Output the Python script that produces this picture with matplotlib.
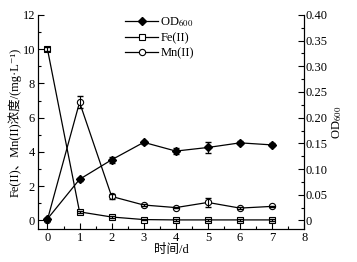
import matplotlib
matplotlib.use("Agg")
import matplotlib.pyplot as plt
from matplotlib.ticker import MultipleLocator

plt.rcParams['font.family'] = ['Liberation Serif', 'Noto Sans CJK SC', 'DejaVu Serif']
plt.rcParams['mathtext.fontset'] = 'stix'

days = [0, 1, 2, 3, 4, 5, 6, 7]
od600 = [0.003, 0.080, 0.118, 0.152, 0.135, 0.142, 0.151, 0.147]
od600_err = [0.002, 0.003, 0.006, 0.003, 0.006, 0.011, 0.003, 0.003]
fe = [10.0, 0.5, 0.2, 0.05, 0.03, 0.03, 0.03, 0.03]
fe_err = [0.1, 0.05, 0.05, 0.05, 0.05, 0.05, 0.05, 0.05]
mn = [0.05, 6.9, 1.4, 0.9, 0.75, 1.05, 0.72, 0.82]
mn_err = [0.05, 0.35, 0.15, 0.05, 0.05, 0.25, 0.05, 0.05]

fig = plt.figure(figsize=(3.57, 2.62), dpi=100)
ax = fig.add_axes([0.106, 0.126, 0.746, 0.817])
ax2 = ax.twinx()

fs = 9
l2, = ax.plot(days, fe, '-', color='black', lw=0.9, marker='s', ms=4,
              mfc='white', mec='black', mew=0.8, label='Fe(II)')
ax.errorbar(days, fe, yerr=fe_err, fmt='none', ecolor='black', elinewidth=0.8, capsize=2)
l3, = ax.plot(days, mn, '-', color='black', lw=0.9, marker='o', ms=4.5,
              mfc='white', mec='black', mew=0.8, label='Mn(II)')
ax.errorbar(days, mn, yerr=mn_err, fmt='none', ecolor='black', elinewidth=0.8, capsize=2)
l1, = ax2.plot(days, od600, '-', color='black', lw=0.9, marker='D', ms=4,
               mfc='black', mec='black', label='OD$_{600}$')
ax2.errorbar(days, od600, yerr=od600_err, fmt='none', ecolor='black', elinewidth=0.8, capsize=2)

ax.set_xlim(-0.3, 8)
ax.set_ylim(-0.5, 12)
ax2.set_ylim(-0.5 / 30, 0.40)
ax.xaxis.set_major_locator(MultipleLocator(1))
ax.xaxis.set_minor_locator(MultipleLocator(0.5))
ax.yaxis.set_major_locator(MultipleLocator(2))
ax.yaxis.set_minor_locator(MultipleLocator(1))
ax2.yaxis.set_minor_locator(MultipleLocator(0.025))
ax2.set_yticks([0, 0.05, 0.10, 0.15, 0.20, 0.25, 0.30, 0.35, 0.40])
ax2.set_yticklabels(['0', '0.05', '0.10', '0.15', '0.20', '0.25', '0.30', '0.35', '0.40'])

for a in (ax, ax2):
    a.spines['top'].set_visible(False)
    a.tick_params(which='both', direction='in', labelsize=fs, width=0.8)
    a.tick_params(which='major', length=4)
    a.tick_params(which='minor', length=2)
    for s in a.spines.values():
        s.set_linewidth(0.8)
ax.tick_params(axis='y', right=False)
ax2.tick_params(axis='y', left=False, pad=1)
ax.tick_params(axis='x', top=False, pad=2)
ax.tick_params(axis='y', pad=2)

ax.set_xlabel('时间/d', fontsize=fs, labelpad=0)
ax.set_ylabel('Fe(II)、Mn(II)浓度/(mg·L⁻¹)', fontsize=fs, labelpad=1)
ax2.set_ylabel('OD$_{600}$', fontsize=fs, labelpad=2)

ax.legend(handles=[l1, l2, l3], loc='upper left', bbox_to_anchor=(0.31, 1.02),
          frameon=False, fontsize=fs, handlelength=2.6, handletextpad=0.2,
          labelspacing=0.25, borderaxespad=0)

fig.savefig('out.png', dpi=100)
